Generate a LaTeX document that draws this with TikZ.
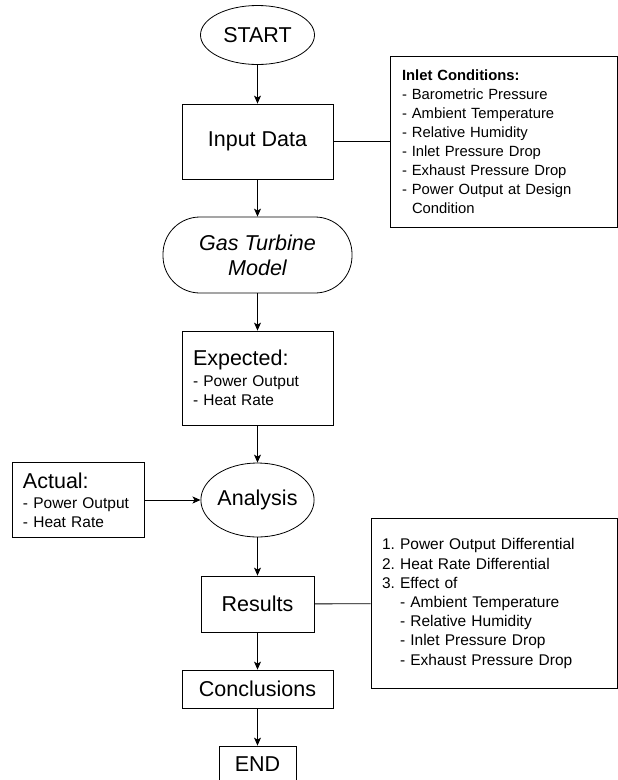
\documentclass[tikz,border=0pt]{standalone}
\usepackage{fontspec}
\setmainfont{Liberation Sans}
\usetikzlibrary{shapes.geometric,arrows.meta}

\newcommand{\bigtxt}{\fontsize{21.5}{25}\selectfont}
\newcommand{\smalltxt}{\fontsize{15.5}{19.2}\selectfont}
\frenchspacing

\begin{document}
\begin{tikzpicture}[x=1pt,y=-1pt,line width=0.8pt,
  terminal/.style={draw,ellipse,inner sep=0pt,font=\bigtxt},
  process/.style={draw,rectangle,inner sep=0pt,font=\bigtxt},
  listbox/.style={draw,rectangle,align=left,inner xsep=11pt,inner ysep=0pt,font=\smalltxt},
  flow/.style={-{Stealth[length=8pt,width=7pt,inset=2pt]}}]

\useasboundingbox (0,0) rectangle (618,780);

\node[terminal,minimum width=114pt,minimum height=59pt] (start) at (257.5,35) {START};
\node[process,minimum width=151pt,minimum height=75pt] (input) at (257.5,141.5) {Input Data};
\node[listbox,font=\fontsize{14.8}{19}\selectfont,inner xsep=12pt,text width=203pt,minimum height=171pt] (inlet) at (503.5,141.5)
  {\textbf{Inlet Conditions:}\\ - Barometric Pressure\\ - Ambient Temperature\\ - Relative Humidity\\
   - Inlet Pressure Drop\\ - Exhaust Pressure Drop\\ - Power Output at Design\\ \hspace*{10pt}Condition};

\node[draw,rounded corners=37pt,minimum width=189pt,minimum height=76pt,align=center,font=\bigtxt\itshape] (model) at (257.5,255) {Gas Turbine\\Model};

\node[listbox,text width=129pt,minimum height=94pt] (expected) at (257.5,378)
  {{\bigtxt Expected:}\\[2pt] - Power Output\\ - Heat Rate};

\node[terminal,minimum width=113pt,minimum height=74pt] (analysis) at (257.5,500) {Analysis};
\node[listbox,text width=110pt,minimum height=75pt] (actual) at (78,500)
  {{\bigtxt Actual:}\\[1pt] - Power Output\\ - Heat Rate};

\node[process,minimum width=113pt,minimum height=56pt] (results) at (257.5,604) {Results};
\node[listbox,text width=224pt,minimum height=170pt] (effects) at (494,603.5)
  {1. Power Output Differential\\ 2. Heat Rate Differential\\ 3. Effect of\\
   \hspace*{18pt}- Ambient Temperature\\ \hspace*{18pt}- Relative Humidity\\
   \hspace*{18pt}- Inlet Pressure Drop\\ \hspace*{18pt}- Exhaust Pressure Drop};

\node[process,minimum width=151pt,minimum height=38pt] (conclusions) at (257.5,689) {Conclusions};
\node[process,minimum width=77pt,minimum height=37pt] (end) at (257.5,764.5) {END};

\draw[flow] (start) -- (input);
\draw[flow] (input) -- (model);
\draw[flow] (model) -- (expected);
\draw[flow] (expected) -- (analysis);
\draw[flow] (actual) -- (analysis);
\draw[flow] (analysis) -- (results);
\draw[flow] (results) -- (conclusions);
\draw[flow] (conclusions) -- (end);

\draw (input) -- (inlet);
\draw (results) -- (effects);

\end{tikzpicture}
\end{document}
